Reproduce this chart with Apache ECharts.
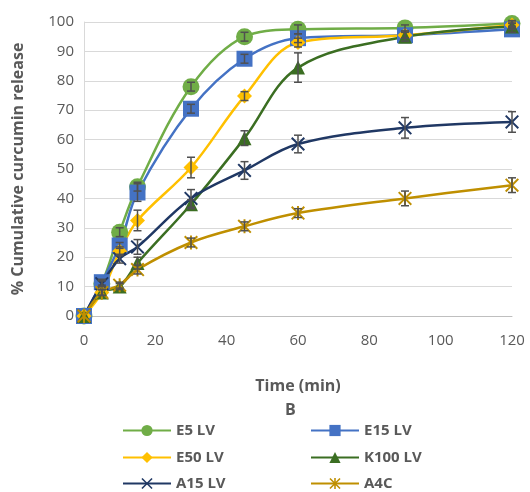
<!DOCTYPE html>
<html>
<head>
<meta charset="utf-8">
<script src="https://cdn.jsdelivr.net/npm/echarts@6/dist/echarts.min.js"></script>
<style>
  html, body { margin: 0; padding: 0; background: #fff; }
  #container { width: 530px; height: 492px; }
</style>
</head>
<body>
<div id="container"></div>
<script>
// time points (min)
var times = [0, 5, 10, 15, 30, 45, 60, 90, 120];

// release values (%)
var e5 = [0, 11, 28.5, 44, 78, 95, 97.5, 98, 99.5];
var e15 = [0, 11.5, 24, 42, 70.5, 87.5, 94.5, 95.5, 97.5];
var e50 = [0, 8, 22, 32.5, 50.5, 74.8, 93, 95.5, 99];
var k100 = [0, 8, 10, 18, 38, 60.5, 84.5, 95, 98.5];
var a15 = [0, 11, 19.5, 23.5, 40, 49.5, 58.5, 64, 66];
var a4c = [0, 8, 10.5, 15.8, 25, 30.5, 35, 40, 44.5];

// standard deviations
var e5Err = [0, 1, 1.5, 1.5, 1.5, 1.5, 1.5, 1, 1];
var e15Err = [0, 1, 1, 3, 1.5, 1.5, 1.5, 1, 1];
var e50Err = [0, 1, 1.5, 3.5, 3.5, 1.5, 1.5, 1, 1];
var k100Err = [0, 1, 1, 2, 1.5, 2.5, 5, 1.5, 1];
var a15Err = [0, 1, 1.5, 2.5, 3, 3, 3, 3.5, 3.5];
var a4cErr = [0, 1, 1, 1.5, 1.5, 1.5, 1.5, 2.5, 2.5];

var xTicks = [0, 20, 40, 60, 80, 100, 120];

var crossPath = 'path://M1,0 L5,4 L9,0 L10,1 L6,5 L10,9 L9,10 L5,6 L1,10 L0,9 L4,5 L0,1 Z';
var starPath = 'path://M1,0 L5,4 L9,0 L10,1 L6,5 L10,9 L9,10 L5,6 L1,10 L0,9 L4,5 L0,1 Z M4.3,0 L5.7,0 L5.7,10 L4.3,10 Z';

// legend slots: [left, top]
var seriesDefs = [
  { name: 'E5 LV', data: e5, err: e5Err, color: '#70ad47', symbol: 'circle', size: 17, pos: [122, 423] },
  { name: 'E15 LV', data: e15, err: e15Err, color: '#4472c4', symbol: 'rect', size: 16, pos: [310, 423] },
  { name: 'E50 LV', data: e50, err: e50Err, color: '#ffc000', symbol: 'diamond', size: 15, pos: [122, 450] },
  { name: 'K100 LV', data: k100, err: k100Err, color: '#3b6e22', symbol: 'triangle', size: 14, pos: [310, 450] },
  { name: 'A15 LV', data: a15, err: a15Err, color: '#203864', symbol: crossPath, size: 14, pos: [122, 476] },
  { name: 'A4C', data: a4c, err: a4cErr, color: '#bf8f00', symbol: starPath, size: 14, pos: [310, 476] }
];

var font = 'Open Sans';
var grey = '#595959';

function pairs(vals) {
  return vals.map(function (v, i) { return [times[i], v]; });
}

var errData = [];
seriesDefs.forEach(function (s) {
  s.data.forEach(function (v, i) {
    if (s.err[i] > 0) errData.push([times[i], v - s.err[i], v + s.err[i]]);
  });
});

var series = seriesDefs.map(function (s) {
  return {
    name: s.name,
    type: 'line',
    smooth: 0.35,
    data: pairs(s.data),
    symbol: s.symbol,
    symbolSize: s.size,
    lineStyle: { color: s.color, width: 2.5 },
    itemStyle: { color: s.color },
    z: 2
  };
});

series.push({
  type: 'custom',
  data: errData,
  z: 5,
  silent: true,
  renderItem: function (params, api) {
    var x = api.value(0);
    var lo = api.coord([x, api.value(1)]);
    var hi = api.coord([x, api.value(2)]);
    var cap = 4;
    var st = { stroke: '#505050', lineWidth: 1.5 };
    return {
      type: 'group',
      children: [
        { type: 'line', shape: { x1: lo[0], y1: lo[1], x2: hi[0], y2: hi[1] }, style: st },
        { type: 'line', shape: { x1: lo[0] - cap, y1: lo[1], x2: lo[0] + cap, y2: lo[1] }, style: st },
        { type: 'line', shape: { x1: hi[0] - cap, y1: hi[1], x2: hi[0] + cap, y2: hi[1] }, style: st }
      ]
    };
  }
});

var legends = seriesDefs.map(function (s) {
  return {
    left: s.pos[0],
    top: s.pos[1],
    padding: 0,
    itemWidth: 48,
    itemHeight: 14,
    itemGap: 0,
    data: [s.name],
    textStyle: { fontFamily: font, fontSize: 15, fontWeight: 'bold', color: grey }
  };
});

var option = {
  animation: false,
  grid: { left: 84, right: 18, top: 22, bottom: 176 },
  xAxis: {
    type: 'value',
    min: 0,
    max: 120,
    interval: 20,
    name: 'Time (min)',
    nameLocation: 'middle',
    nameGap: 62,
    nameTextStyle: { fontFamily: font, fontSize: 16, fontWeight: 'bold', color: grey },
    axisLine: { show: true, lineStyle: { color: '#bfbfbf' } },
    axisTick: { show: false },
    splitLine: { show: false },
    axisLabel: {
      fontFamily: font, fontSize: 15, color: grey, margin: 17,
      formatter: function (v) { return xTicks.indexOf(v) >= 0 ? String(v) : ''; }
    }
  },
  yAxis: {
    type: 'value',
    min: 0,
    max: 100,
    interval: 10,
    name: '% Cumulative curcumin release',
    nameLocation: 'middle',
    nameGap: 58,
    nameTextStyle: { fontFamily: font, fontSize: 16, fontWeight: 'bold', color: grey },
    axisLine: { show: true, lineStyle: { color: '#d9d9d9' } },
    axisTick: { show: false },
    splitLine: { lineStyle: { color: '#d9d9d9', width: 1 } },
    axisLabel: { fontFamily: font, fontSize: 15, color: grey, margin: 10 }
  },
  legend: legends,
  graphic: [{
    type: 'text',
    left: 285,
    top: 402,
    style: { text: 'B', fontFamily: font, fontSize: 16, fontWeight: 'bold', fill: grey }
  }],
  series: series
};

var chart = echarts.init(document.getElementById('container'));
chart.setOption(option);
</script>
</body>
</html>
